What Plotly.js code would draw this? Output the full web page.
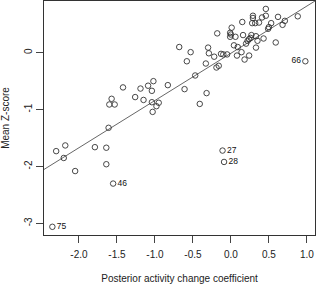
<!DOCTYPE html>
<html>
<head>
<meta charset="utf-8">
<script src="https://cdn.plot.ly/plotly-3.0.1.min.js"></script>
<style>html,body{margin:0;padding:0;background:#fff;}#chart{width:316px;height:284px;}</style>
</head>
<body>
<div id="chart"></div>
<script>
// Posterior activity change coefficient (x) vs Mean Z-score (y)
const pointX = [0.46,0.29,0.29,0.46,0.41,0.62,0.88,0.28,0.32,0.37,0.15,0.53,0.71,0.68,0.50,0.49,
  0.01,-0.01,0.00,-0.18,0.06,0.16,-0.01,0.27,0.33,0.24,0.26,0.22,0.35,0.43,0.59,0.20,0.04,0.09,0.33,
  -0.68,-0.30,-0.53,-0.29,-0.13,-0.10,-0.05,0.14,0.08,0.24,0.18,-0.22,-0.58,-0.33,-0.16,-0.19,-0.47,
  -1.02,-1.04,-0.83,-0.61,-0.32,-0.95,-0.98,-1.04,-1.03,-0.41,-1.42,-1.19,-1.09,-1.26,-1.15,-1.57,
  -1.60,-1.53,-1.61,-2.30,-2.18,-2.20,-1.79,-1.64,-1.64,-2.05];
const pointY = [0.77,0.65,0.61,0.65,0.62,0.63,0.64,0.52,0.52,0.53,0.54,0.52,0.56,0.49,0.45,0.42,
  0.44,0.35,0.32,0.34,0.28,0.31,0.28,0.31,0.29,0.24,0.26,0.21,0.21,0.25,0.18,0.16,0.13,0.10,0.09,
  0.10,0.09,0.01,-0.01,-0.02,-0.03,-0.03,0.01,-0.05,-0.05,-0.12,-0.07,-0.15,-0.19,-0.23,-0.26,-0.40,
  -0.50,-0.67,-0.57,-0.64,-0.71,-0.88,-0.94,-0.87,-1.04,-0.90,-0.61,-0.63,-0.58,-0.78,-0.83,-0.81,
  -0.91,-0.91,-1.32,-1.73,-1.63,-1.85,-1.66,-1.67,-1.96,-2.08];

// Labelled outliers
const labelText = ["66","27","28","46","75"];
const labelX = [0.98,-0.11,-0.09,-1.55,-2.35];
const labelY = [-0.15,-1.72,-1.92,-2.30,-3.06];
const labelSide = ["middle left","middle right","middle right","middle right","middle right"];

// Fitted regression line
const fitIntercept = -0.01;
const fitSlope = 0.83;

// Axis settings
const xRange = [-2.46, 1.107];
const yRange = [-3.204, 0.909];
const xTickVals = [-2.0,-1.5,-1.0,-0.5,0.0,0.5,1.0];
const xTickText = ["-2.0","-1.5","-1.0","-0.5","0.0","0.5","1.0"];
const yTickVals = [0,-1,-2,-3];
const yTickText = ["0","-1","-2","-3"];

const markerStyle = {symbol:'circle-open', size:5.5, color:'#333', line:{width:0.9, color:'#333'}};

const traces = [
  {x: xRange, y: xRange.map(v => fitIntercept + fitSlope*v), mode:'lines',
   line:{color:'#555', width:0.9}, hoverinfo:'skip'},
  {x: pointX, y: pointY, mode:'markers', marker: markerStyle},
  {x: labelX, y: labelY, mode:'markers+text', text: labelText, textposition: labelSide,
   textfont:{family:'Liberation Sans, Arial, sans-serif', size:8.5, color:'#111'},
   marker: markerStyle}
];

const axisFont = {family:'Liberation Sans, Arial, sans-serif', size:10, color:'#222'};
const layout = {
  width:316, height:284,
  margin:{l:44, r:1, t:1, b:49},
  showlegend:false,
  paper_bgcolor:'#fff', plot_bgcolor:'#fff',
  xaxis:{range:xRange, tickvals:xTickVals, ticktext:xTickText, ticks:'outside', ticklen:7,
    ticklabelstandoff:3,
    tickcolor:'#444', showline:true, mirror:true, linecolor:'#333', linewidth:1,
    showgrid:false, zeroline:false, tickfont:axisFont, automargin:false,
    title:{text:'Posterior activity change coefficient', font:axisFont, standoff:17}},
  yaxis:{range:yRange, tickvals:yTickVals, ticktext:yTickText, ticks:'outside', ticklen:7,
    tickangle:-90, tickcolor:'#444', showline:true, mirror:true, linecolor:'#333', linewidth:1,
    showgrid:false, zeroline:false, tickfont:axisFont, automargin:false,
    title:{text:'Mean Z-score', font:axisFont, standoff:12}}
};

Plotly.newPlot('chart', traces, layout, {staticPlot:true, displayModeBar:false});
</script>
</body>
</html>
